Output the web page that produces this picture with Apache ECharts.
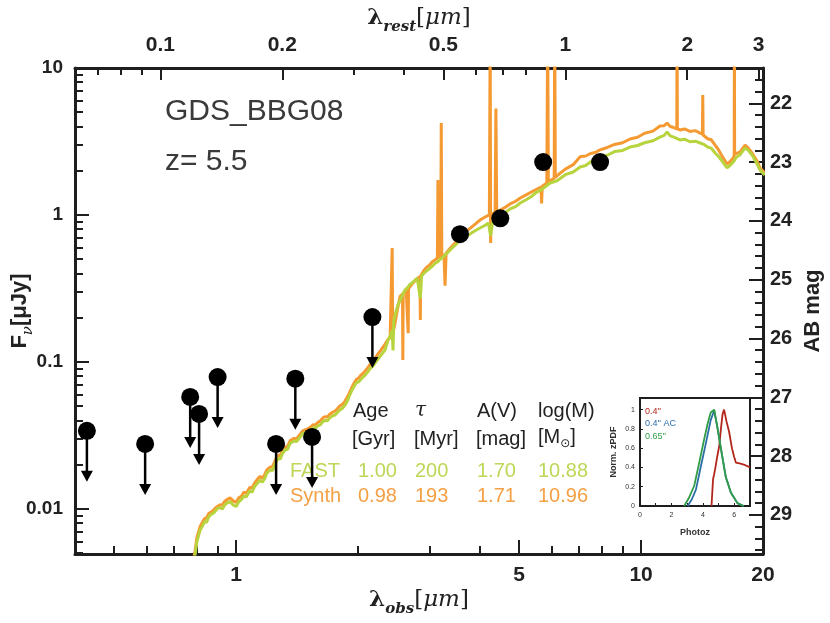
<!DOCTYPE html>
<html>
<head>
<meta charset="utf-8">
<script src="https://cdn.jsdelivr.net/npm/echarts@6/dist/echarts.min.js"></script>
<style>
  html, body { margin: 0; padding: 0; background: #fff; }
  #main { width: 830px; height: 623px; }
</style>
</head>
<body>
<div id="main"></div>
<script>
// 红移与坐标范围
const zPhot = 5.5;
const lamMin = 0.4, lamMax = 20;
const fluxMin = 0.00494, fluxMax = 10;

// 刻度标签
const obsLabels = [1, 5, 10, 20];
const restLabels = [0.1, 0.2, 0.5, 1, 2, 3];
const fluxLabels = [0.01, 0.1, 1, 10];
const magLabels = [22, 23, 24, 25, 26, 27, 28, 29];
const pdfLabels = [0, 2, 4, 6];

// 测光点 [lambda_obs(um), F(uJy)]
const detections = [[3.57, 0.74], [4.49, 0.95], [5.73, 2.29], [7.92, 2.29]];
const upperLimits = [[0.428, 0.034], [0.596, 0.0277], [0.77, 0.0578], [0.81, 0.0443], [0.90, 0.079],
  [1.255, 0.0277], [1.40, 0.077], [1.54, 0.0309], [2.17, 0.202]];

// FAST 最佳拟合 SED
const fastSed = [
  [0.78,0.0040],[0.792,0.0049],[0.80,0.0060],[0.815,0.0072],[0.825,0.0076],[0.835,0.0082],[0.845,0.0081],
  [0.855,0.0088],[0.863,0.0091],[0.872,0.0090],[0.88,0.0094],[0.89,0.0096],[0.90,0.0101],[0.913,0.0102],
  [0.925,0.0100],[0.935,0.0106],[0.95,0.0110],[0.966,0.0112],[0.975,0.0111],[0.985,0.0106],[0.995,0.0103],
  [1.0,0.0104],[1.015,0.0112],[1.03,0.0116],[1.045,0.0122],[1.06,0.0121],[1.08,0.0133],[1.095,0.0130],
  [1.11,0.0142],[1.13,0.0150],[1.146,0.0157],[1.16,0.0152],[1.175,0.0160],[1.19,0.0175],[1.213,0.0184],
  [1.23,0.0183],[1.25,0.0205],[1.27,0.0222],[1.285,0.0218],[1.30,0.0238],[1.321,0.0252],[1.34,0.0255],
  [1.36,0.0280],[1.39,0.0290],[1.41,0.0288],[1.439,0.0309],[1.46,0.0325],[1.48,0.0330],[1.50,0.0335],
  [1.53,0.0345],[1.55,0.0358],[1.57,0.0355],[1.59,0.0368],[1.612,0.0373],[1.64,0.0395],[1.66,0.0400],
  [1.68,0.0398],[1.70,0.0415],[1.73,0.0430],[1.755,0.0436],[1.78,0.0455],[1.80,0.0470],[1.83,0.0485],
  [1.858,0.0510],[1.88,0.0540],[1.90,0.0580],[1.933,0.0645],[1.96,0.0690],[1.98,0.0720],[2.01,0.0735],
  [2.03,0.0760],[2.06,0.0790],[2.083,0.0816],[2.11,0.0850],[2.14,0.0900],[2.17,0.0930],[2.205,0.0985],
  [2.23,0.1010],[2.26,0.108],[2.30,0.115],[2.333,0.121],[2.37,0.140],[2.40,0.150],[2.428,0.165],
  [2.44,0.120],[2.45,0.190],[2.47,0.210],[2.51,0.245],[2.541,0.264],[2.58,0.290],[2.613,0.309],
  [2.65,0.320],[2.68,0.335],[2.72,0.345],[2.767,0.361],[2.80,0.372],[2.83,0.380],[2.85,0.270],
  [2.87,0.385],[2.91,0.402],[2.95,0.415],[3.013,0.436],[3.06,0.452],[3.1,0.470],[3.15,0.482],
  [3.2,0.505],[3.24,0.515],[3.28,0.535],[3.33,0.555],[3.4,0.590],[3.48,0.625],[3.57,0.676],[3.68,0.705],
  [3.8,0.750],[3.9,0.785],[4.0,0.816],[4.1,0.845],[4.2,0.880],[4.25,0.720],[4.30,0.900],[4.4,0.950],
  [4.49,1.0],[4.62,1.04],[4.75,1.10],[4.9,1.14],[5.03,1.207],[5.2,1.27],[5.35,1.33],[5.5,1.42],
  [5.7,1.50],[5.96,1.65],[6.2,1.71],[6.5,1.88],[6.8,1.96],[7.07,2.12],[7.3,2.17],[7.5,2.30],[7.7,2.34],
  [7.92,2.48],[8.25,2.55],[8.6,2.70],[9.0,2.75],[9.39,2.90],[9.8,2.97],[10.2,3.10],[10.7,3.20],
  [11.13,3.39],[11.4,3.48],[11.59,3.67],[11.8,3.45],[12.0,3.40],[12.48,3.24],[12.8,3.28],[13.2,3.15],
  [13.6,3.18],[13.99,3.09],[14.3,3.02],[14.6,2.90],[14.9,2.85],[15.23,2.64],[15.5,2.52],[15.8,2.35],
  [16.3,2.09],[16.6,2.18],[16.9,2.30],[17.2,2.48],[17.54,2.56],[18.06,2.86],[18.4,2.75],[18.79,2.56],
  [19.0,2.55],[19.3,2.25],[19.67,2.02],[20.2,1.87]
];

// Synth SED（含发射线）
const synthSed = [
  [0.78,0.0042],[0.792,0.0052],[0.80,0.0064],[0.815,0.0076],[0.825,0.0081],[0.835,0.0086],[0.845,0.0087],
  [0.855,0.0093],[0.863,0.0095],[0.872,0.0096],[0.88,0.0099],[0.89,0.0102],[0.90,0.0105],[0.913,0.0107],
  [0.925,0.0106],[0.935,0.0112],[0.95,0.0116],[0.966,0.0119],[0.975,0.0118],[0.985,0.0113],[0.995,0.0110],
  [1.0,0.0111],[1.015,0.0119],[1.03,0.0122],[1.045,0.0130],[1.06,0.0128],[1.08,0.0140],[1.095,0.0139],
  [1.11,0.0150],[1.13,0.0160],[1.146,0.0167],[1.16,0.0161],[1.175,0.0170],[1.19,0.0184],[1.213,0.0193],
  [1.23,0.0194],[1.25,0.0215],[1.27,0.0232],[1.285,0.0230],[1.30,0.0250],[1.321,0.0263],[1.34,0.0268],
  [1.36,0.0292],[1.39,0.0302],[1.41,0.0301],[1.439,0.0322],[1.46,0.0340],[1.48,0.0345],[1.50,0.0350],
  [1.53,0.0362],[1.55,0.0375],[1.57,0.0372],[1.59,0.0388],[1.612,0.0397],[1.64,0.0418],[1.66,0.0425],
  [1.68,0.0422],[1.70,0.0440],[1.73,0.0455],[1.755,0.0464],[1.78,0.0482],[1.80,0.0500],[1.83,0.0515],
  [1.858,0.0542],[1.88,0.0575],[1.90,0.0610],[1.933,0.0677],[1.96,0.0725],[1.98,0.0760],[2.01,0.0780],
  [2.03,0.0810],[2.06,0.0840],[2.083,0.0870],[2.11,0.0905],[2.14,0.0960],[2.17,0.0990],[2.205,0.1065],
  [2.23,0.1090],[2.26,0.117],[2.30,0.125],[2.333,0.1325],[2.37,0.142],[2.40,0.146],[2.42,0.150],
  [2.428,0.596],[2.436,0.155],[2.46,0.175],[2.50,0.225],[2.54,0.280],[2.575,0.290],[2.58,0.103],
  [2.585,0.295],[2.63,0.305],[2.655,0.310],[2.66,0.157],[2.665,0.315],[2.72,0.340],[2.80,0.370],
  [2.845,0.380],[2.85,0.193],[2.855,0.385],[2.91,0.420],[2.95,0.440],[3.0,0.455],[3.05,0.480],[3.1,0.495],
  [3.14,0.510],[3.15,1.73],[3.16,0.515],[3.2,0.520],[3.21,4.22],[3.22,0.525],[3.26,0.540],[3.28,0.330],
  [3.30,0.550],[3.38,0.596],[3.48,0.650],[3.57,0.72],[3.68,0.765],[3.8,0.82],[3.9,0.870],[4.0,0.924],
  [4.15,0.98],[4.22,1.0],[4.24,20],[4.25,0.645],[4.26,1.01],[4.36,1.04],[4.38,5.3],[4.40,1.05],
  [4.49,1.08],[4.62,1.13],[4.75,1.19],[4.9,1.24],[5.03,1.305],[5.2,1.37],[5.4,1.45],[5.66,1.55],
  [5.68,1.20],[5.70,1.57],[5.85,1.65],[5.88,20],[5.90,1.68],[5.96,1.73],[6.10,1.78],[6.12,20],
  [6.14,1.80],[6.3,1.92],[6.5,2.05],[6.8,2.20],[7.07,2.49],[7.3,2.52],[7.5,2.62],[7.7,2.66],[7.92,2.77],
  [8.25,2.88],[8.6,3.02],[9.0,3.10],[9.39,3.29],[9.8,3.38],[10.2,3.60],[10.7,3.72],[11.13,4.03],
  [11.4,4.05],[11.59,4.22],[11.8,4.00],[12.0,3.95],[12.25,3.85],[12.27,20],[12.29,3.85],[12.48,3.79],
  [12.8,3.85],[13.2,3.70],[13.6,3.75],[13.99,3.61],[14.17,3.55],[14.2,6.55],[14.23,3.50],[14.6,3.30],
  [14.9,3.25],[15.23,2.99],[15.5,2.80],[15.8,2.55],[16.3,2.22],[16.6,2.32],[16.9,2.45],[16.98,2.55],
  [17.0,20],[17.02,2.60],[17.54,2.68],[18.06,2.99],[18.4,2.85],[18.79,2.64],[19.0,2.62],[19.3,2.35],
  [19.67,2.09],[20.2,1.93]
];

// 小图：photo-z 概率分布
const pdfRed = [[4.55,0],[4.62,0],[4.65,0.28],[4.72,0.33],[4.8,0.40],[4.9,0.50],[5.04,0.62],[5.15,0.80],
  [5.25,0.95],[5.35,1.0],[5.5,0.88],[5.67,0.77],[5.85,0.60],[5.99,0.51],[6.1,0.45],[6.4,0.44],[6.6,0.43],[7.0,0.40]];
const pdfBlue = [[3.03,0],[3.3,0.07],[3.56,0.17],[3.87,0.41],[4.19,0.65],[4.5,0.89],[4.72,0.99],[4.93,0.81],
  [5.25,0.50],[5.46,0.30],[5.78,0.14],[6.2,0.03],[6.6,0]];
const pdfGreen = [[2.81,0],[3.1,0.08],[3.45,0.21],[3.77,0.45],[4.08,0.69],[4.3,0.85],[4.5,0.97],[4.72,1.0],
  [4.93,0.81],[5.25,0.50],[5.46,0.30],[5.78,0.14],[6.2,0.03],[6.6,0]];

// 拟合参数表
const tableHead = ['Age', 'τ', 'A(V)', 'log(M)'];
const tableUnit = ['[Gyr]', '[Myr]', '[mag]', '[M⊙]'];
const fastRow = ['FAST', '1.00', '200', '1.70', '10.88'];
const synthRow = ['Synth', '0.98', '193', '1.71', '10.96'];

// 颜色
const cFast = '#b7d43f', cSynth = '#f59a32';
const cFastText = '#bcd755', cSynthText = '#f5a045';
const axisColor = '#1e1e1e';

// 次刻度
function logMinor(lo, hi) {
  var list = [];
  for (var d = -4; d <= 2; d++) {
    for (var k = 2; k <= 9; k++) {
      var v = +(k * Math.pow(10, d)).toPrecision(6);
      if (v > lo && v < hi) list.push(v);
    }
  }
  return list;
}
const restMin = lamMin / (1 + zPhot), restMax = lamMax / (1 + zPhot);
const magTop = 23.9 - 2.5 * Math.log10(fluxMax), magBottom = 23.9 - 2.5 * Math.log10(fluxMin);
var magMinor = [];
for (var m = 214; m <= 296; m += 2) { if (m % 10 !== 0) magMinor.push(m / 10); }

var chartDom = document.getElementById('main');
var myChart = echarts.init(chartDom, null, { renderer: 'canvas' });

var tickFont = { fontFamily: 'Liberation Sans', fontWeight: 'bold', color: '#222' };
var lineAx = { show: true, onZero: false, lineStyle: { color: axisColor, width: 3 } };
var noLine = { show: false };
function fmt(v) { return String(+(+v).toPrecision(6)); }

var lamRich = {
  lam: { fontFamily: 'DejaVu Serif', fontWeight: 'bold', fontSize: 23, lineHeight: 34, color: '#222' },
  sub: { fontFamily: 'DejaVu Serif', fontStyle: 'italic', fontWeight: 'bold', fontSize: 15, lineHeight: 14, verticalAlign: 'bottom', color: '#222' },
  br: { fontFamily: 'DejaVu Serif', fontSize: 23, lineHeight: 34, color: '#222' },
  mu: { fontFamily: 'DejaVu Serif', fontStyle: 'italic', fontSize: 23, lineHeight: 34, color: '#222' }
};

var option = {
  animation: false,
  backgroundColor: '#fff',
  grid: [
    { left: 75, top: 68, right: 67, bottom: 69, containLabel: false, outerBoundsMode: 'none' },
    { left: 640, top: 398, width: 110, height: 108, show: true, backgroundColor: '#fff',
      borderColor: axisColor, borderWidth: 2, containLabel: false, outerBoundsMode: 'none' }
  ],
  xAxis: [
    { // 观测波长（底）
      type: 'log', gridIndex: 0, position: 'bottom', min: lamMin, max: lamMax,
      axisLine: lineAx, splitLine: { show: false },
      axisTick: { inside: true, length: 14, customValues: [1, 5, 10], lineStyle: { color: axisColor, width: 2 } },
      axisLabel: Object.assign({ fontSize: 21, margin: 11, customValues: obsLabels, formatter: fmt }, tickFont),
      name: '{lam|λ}{sub|obs}{br|[}{mu|μm}{br|]}', nameLocation: 'middle', nameGap: 29, nameMoveOverlap: false,
      nameTextStyle: { rich: lamRich }
    },
    { // 静止波长（顶）
      type: 'log', gridIndex: 0, position: 'top', min: restMin, max: restMax,
      axisLine: lineAx, splitLine: { show: false },
      axisTick: { inside: true, length: 12, customValues: restLabels, lineStyle: { color: axisColor, width: 2 } },
      axisLabel: Object.assign({ fontSize: 21, margin: 12, customValues: restLabels, formatter: fmt }, tickFont),
      name: '{lam|λ}{sub|rest}{br|[}{mu|μm}{br|]}', nameLocation: 'middle', nameGap: 33, nameMoveOverlap: false,
      nameTextStyle: { rich: lamRich }
    },
    { // 底部次刻度
      type: 'log', gridIndex: 0, position: 'bottom', min: lamMin, max: lamMax,
      axisLine: noLine, splitLine: { show: false }, axisLabel: { show: false },
      axisTick: { inside: true, length: 8, customValues: [0.5, 0.6, 0.7, 0.8, 0.9, 2, 3, 4, 6, 7, 8, 9],
        lineStyle: { color: axisColor, width: 2 } }
    },
    { // 顶部次刻度
      type: 'log', gridIndex: 0, position: 'top', min: restMin, max: restMax,
      axisLine: noLine, splitLine: { show: false }, axisLabel: { show: false },
      axisTick: { inside: true, length: 7, customValues: [0.07, 0.08, 0.09, 0.3, 0.4, 0.6, 0.7, 0.8, 0.9],
        lineStyle: { color: axisColor, width: 2 } }
    },
    { // 小图 x
      type: 'value', gridIndex: 1, min: 0, max: 7, interval: 1,
      axisLine: { show: true, onZero: false, lineStyle: { color: axisColor, width: 2 } },
      splitLine: { show: false },
      axisTick: { inside: true, length: 3, lineStyle: { color: axisColor, width: 1 } },
      axisLabel: { fontSize: 7, margin: 6, color: '#333', customValues: pdfLabels },
      name: 'Photoz', nameLocation: 'middle', nameGap: 22, nameMoveOverlap: false,
      nameTextStyle: { fontSize: 9, fontWeight: 'bold', color: '#333', fontFamily: 'Liberation Sans' }
    }
  ],
  yAxis: [
    { // 流量（左）
      type: 'log', gridIndex: 0, position: 'left', min: fluxMin, max: fluxMax,
      axisLine: lineAx, splitLine: { show: false },
      axisTick: { inside: true, length: 14, customValues: fluxLabels, lineStyle: { color: axisColor, width: 2 } },
      axisLabel: Object.assign({ fontSize: 19, margin: 12, customValues: fluxLabels, formatter: fmt }, tickFont),
      name: '{b|F}{sub|ν}{b|[μJy]}', nameLocation: 'middle', nameGap: 39, nameMoveOverlap: false,
      nameTextStyle: { rich: {
        b: { fontFamily: 'Liberation Sans', fontWeight: 'bold', fontSize: 22, lineHeight: 32, color: '#222' },
        sub: { fontFamily: 'DejaVu Serif', fontStyle: 'italic', fontSize: 15, lineHeight: 14, verticalAlign: 'bottom', color: '#222' }
      } }
    },
    { // AB 星等（右）
      type: 'value', gridIndex: 0, position: 'right', min: magTop, max: magBottom, inverse: true,
      axisLine: lineAx, splitLine: { show: false },
      axisTick: { inside: true, length: 14, customValues: magLabels, lineStyle: { color: axisColor, width: 2 } },
      axisLabel: Object.assign({ fontSize: 20, margin: 7, customValues: magLabels }, tickFont),
      name: 'AB mag', nameLocation: 'middle', nameGap: 39, nameMoveOverlap: false,
      nameTextStyle: { fontFamily: 'Liberation Sans', fontWeight: 'bold', fontSize: 22, color: '#222' }
    },
    { // 左次刻度
      type: 'log', gridIndex: 0, position: 'left', min: fluxMin, max: fluxMax,
      axisLine: noLine, splitLine: { show: false }, axisLabel: { show: false },
      axisTick: { inside: true, length: 8, customValues: logMinor(fluxMin, fluxMax), lineStyle: { color: axisColor, width: 2 } }
    },
    { // 右次刻度
      type: 'value', gridIndex: 0, position: 'right', min: magTop, max: magBottom, inverse: true,
      axisLine: noLine, splitLine: { show: false }, axisLabel: { show: false },
      axisTick: { inside: true, length: 8, customValues: magMinor, lineStyle: { color: axisColor, width: 2 } }
    },
    { // 小图 y
      type: 'value', gridIndex: 1, min: 0, max: 1.12, interval: 0.2,
      axisLine: { show: true, onZero: false, lineStyle: { color: axisColor, width: 2 } },
      splitLine: { show: false },
      axisTick: { inside: true, length: 3, lineStyle: { color: axisColor, width: 1 } },
      axisLabel: { fontSize: 7, margin: 5, color: '#333', showMaxLabel: false },
      name: 'Norm. zPDF', nameLocation: 'middle', nameGap: 22, nameMoveOverlap: false,
      nameTextStyle: { fontSize: 9, fontWeight: 'bold', color: '#333', fontFamily: 'Liberation Sans' }
    }
  ],
  series: [
    {
      name: 'Synth', type: 'line', xAxisIndex: 0, yAxisIndex: 0, data: synthSed,
      showSymbol: false, clip: true, z: 2,
      lineStyle: { color: cSynth, width: 3 }
    },
    {
      name: 'FAST', type: 'line', xAxisIndex: 0, yAxisIndex: 0, data: fastSed,
      showSymbol: false, clip: true, z: 3,
      lineStyle: { color: cFast, width: 3 }
    },
    {
      // 上限箭头
      type: 'custom', xAxisIndex: 0, yAxisIndex: 0, data: upperLimits, z: 4, clip: false,
      renderItem: function (params, api) {
        var p = api.coord([api.value(0), api.value(1)]);
        return {
          type: 'group',
          children: [
            { type: 'line', shape: { x1: p[0], y1: p[1], x2: p[0], y2: p[1] + 42 },
              style: { stroke: '#000', lineWidth: 2.5 } },
            { type: 'polygon', shape: { points: [[p[0] - 6, p[1] + 40], [p[0] + 6, p[1] + 40], [p[0], p[1] + 51]] },
              style: { fill: '#000' } }
          ]
        };
      }
    },
    {
      type: 'scatter', xAxisIndex: 0, yAxisIndex: 0, data: upperLimits, z: 5,
      symbol: 'circle', symbolSize: 18, itemStyle: { color: '#000', opacity: 1 }
    },
    {
      type: 'scatter', xAxisIndex: 0, yAxisIndex: 0, data: detections, z: 5,
      symbol: 'circle', symbolSize: 18, itemStyle: { color: '#000', opacity: 1 }
    },
    { name: "0.4''", type: 'line', xAxisIndex: 4, yAxisIndex: 4, data: pdfRed, showSymbol: false,
      lineStyle: { color: '#b3261c', width: 1.8 } },
    { name: "0.4'' AC", type: 'line', xAxisIndex: 4, yAxisIndex: 4, data: pdfBlue, showSymbol: false,
      lineStyle: { color: '#2c6ea8', width: 1.8 } },
    { name: "0.65''", type: 'line', xAxisIndex: 4, yAxisIndex: 4, data: pdfGreen, showSymbol: false,
      lineStyle: { color: '#2f9d45', width: 1.8 } }
  ],
  graphic: []
};

// 文字注释
var g = option.graphic;
var annFont = '30px "Liberation Sans"';
g.push({ type: 'text', left: 165, top: 97, style: { text: 'GDS_BBG08', font: annFont, fill: '#3a3a3a' } });
g.push({ type: 'text', left: 165, top: 147, style: { text: 'z= 5.5', font: annFont, fill: '#3a3a3a' } });

var colX = [290, 353, 415, 477, 538];
var tFont = '20px "Liberation Sans"';
tableHead.forEach(function (t, i) {
  var f = i === 1 ? 'italic 20px "DejaVu Serif"' : tFont;
  g.push({ type: 'text', left: colX[i + 1], top: 401, style: { text: t, font: f, fill: '#222' } });
});
tableUnit.forEach(function (t, i) {
  if (t === '[M⊙]') {
    g.push({ type: 'text', left: colX[i + 1], top: 427, style: {
      text: '{a|[M}{s|⊙}{a|]}', fill: '#222',
      rich: { a: { font: tFont, fill: '#222', lineHeight: 26 },
              s: { font: '12px "DejaVu Sans"', fill: '#222', lineHeight: 12, verticalAlign: 'bottom' } } } });
  } else {
    g.push({ type: 'text', left: colX[i + 1] - 1, top: 429, style: { text: t, font: tFont, fill: '#222' } });
  }
});
fastRow.forEach(function (t, i) {
  g.push({ type: 'text', left: colX[i] + (i === 1 ? 5 : 0), top: 461, style: { text: t, font: tFont, fill: cFastText } });
});
synthRow.forEach(function (t, i) {
  g.push({ type: 'text', left: colX[i] + (i === 1 ? 5 : 0), top: 486, style: { text: t, font: tFont, fill: cSynthText } });
});

// 小图图例
var insetLegend = [["0.4''", '#b3261c'], ["0.4'' AC", '#2c6ea8'], ["0.65''", '#2f9d45']];
insetLegend.forEach(function (it, i) {
  g.push({ type: 'text', left: 645, top: 407 + i * 12.5, z: 10,
    style: { text: it[0], font: '9px "Liberation Sans"', fill: it[1] } });
});

myChart.setOption(option);
</script>
</body>
</html>
